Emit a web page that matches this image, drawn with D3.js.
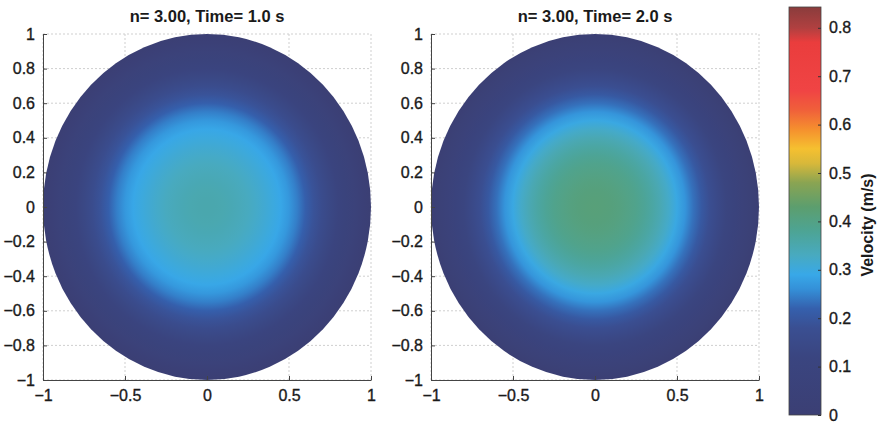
<!DOCTYPE html>
<html>
<head>
<meta charset="utf-8">
<script src="https://cdn.jsdelivr.net/npm/d3@7"></script>
<style>
  body { margin: 0; background: #fff; }
  text { font-family: "Liberation Sans", Arial, Helvetica, sans-serif; fill: #1a1a1a; }
  .tick text { stroke: #1a1a1a; stroke-width: 0.35px; }
</style>
</head>
<body>
<div id="chart"></div>
<script>
// radial positions (fraction of pipe radius) and velocity read at each one
const radius = [0, 0.05, 0.1, 0.15, 0.2, 0.25, 0.3, 0.35, 0.4, 0.45, 0.5,
                0.55, 0.6, 0.65, 0.7, 0.75, 0.8, 0.85, 0.9, 0.95, 1];
const velocityT1 = [0.352, 0.351, 0.348, 0.344, 0.338, 0.331, 0.322, 0.312, 0.301, 0.289, 0.270,
                    0.246, 0.218, 0.190, 0.163, 0.136, 0.109, 0.082, 0.055, 0.028, 0];
const velocityT2 = [0.415, 0.414, 0.411, 0.406, 0.399, 0.390, 0.378, 0.363, 0.345, 0.322, 0.296,
                    0.266, 0.234, 0.204, 0.175, 0.146, 0.117, 0.088, 0.060, 0.030, 0];
const titles = ["n= 3.00, Time= 1.0 s", "n= 3.00, Time= 2.0 s"];

const xTicks = [-1, -0.5, 0, 0.5, 1];
const yTicks = [-1, -0.8, -0.6, -0.4, -0.2, 0, 0.2, 0.4, 0.6, 0.8, 1];
const cbTicks = [0, 0.1, 0.2, 0.3, 0.4, 0.5, 0.6, 0.7, 0.8];
const cbMax = 0.843;

// colormap (jet as it looks printed)
const cmapValues = [0, 0.12, 0.18, 0.22, 0.26, 0.29, 0.33, 0.38, 0.43, 0.48, 0.52, 0.55,
                    0.59, 0.63, 0.67, 0.77, 0.80, 0.843];
const cmapColors = ["#3b3f74", "#3a4580", "#3a4f92", "#3560ad", "#3490d8", "#38a8e8", "#48aac0",
                    "#4da494", "#5c9e6e", "#8aa452", "#d8b83a", "#f5c030", "#f5902e", "#f0603a",
                    "#f04444", "#ea3d3d", "#b04040", "#8a3c3c"];

const width = 877, height = 424;
const color = d3.scaleLinear().domain(cmapValues).range(cmapColors).interpolate(d3.interpolateRgb);

const fmt = v => v === 0 ? "0" : (v < 0 ? "\u2212" : "") + String(+Math.abs(v).toFixed(1));

const svg = d3.select("#chart").append("svg")
    .attr("width", width)
    .attr("height", height);
const defs = svg.append("defs");

const panels = [
    {left: 43, right: 371, values: velocityT1, title: titles[0]},
    {left: 431, right: 759, values: velocityT2, title: titles[1]}
];
const plotTop = 34, plotBottom = 380;

panels.forEach((p, i) => {
    const x = d3.scaleLinear().domain([-1, 1]).range([p.left, p.right]);
    const y = d3.scaleLinear().domain([-1, 1]).range([plotBottom, plotTop]);
    const g = svg.append("g");

    // dashed grid
    g.selectAll(".gx").data(xTicks).enter().append("line")
        .attr("x1", d => x(d)).attr("x2", d => x(d))
        .attr("y1", plotTop).attr("y2", plotBottom)
        .attr("stroke", "#cfcfcf").attr("stroke-dasharray", "2,2");
    g.selectAll(".gy").data(yTicks).enter().append("line")
        .attr("x1", p.left).attr("x2", p.right)
        .attr("y1", d => y(d)).attr("y2", d => y(d))
        .attr("stroke", "#cfcfcf").attr("stroke-dasharray", "2,2");

    // radial velocity field
    const grad = defs.append("radialGradient")
        .attr("id", "field" + i)
        .attr("cx", 0.5).attr("cy", 0.5).attr("r", 0.5);
    grad.selectAll("stop").data(radius).enter().append("stop")
        .attr("offset", d => d)
        .attr("stop-color", (d, j) => color(p.values[j]));

    g.append("ellipse")
        .attr("cx", x(0)).attr("cy", y(0))
        .attr("rx", x(1) - x(0)).attr("ry", y(0) - y(1))
        .attr("fill", "url(#field" + i + ")");

    // axes
    const xAxis = d3.axisBottom(x).tickValues(xTicks).tickFormat(fmt).tickSizeInner(-4).tickSizeOuter(0).tickPadding(10);
    const yAxis = d3.axisLeft(y).tickValues(yTicks).tickFormat(fmt).tickSizeInner(-4).tickSizeOuter(0).tickPadding(8);

    const ax = g.append("g").attr("transform", `translate(0,${plotBottom})`).call(xAxis);
    const ay = g.append("g").attr("transform", `translate(${p.left},0)`).call(yAxis);
    [ax, ay].forEach(a => {
        a.select(".domain").attr("stroke", "#444");
        a.selectAll(".tick line").attr("stroke", "#444");
        a.selectAll(".tick text").style("font-size", "16px").attr("fill", "#1a1a1a");
    });

    g.append("text")
        .attr("x", x(0)).attr("y", 22)
        .attr("text-anchor", "middle")
        .style("font-size", "16.5px").style("font-weight", "bold")
        .text(p.title);
});

// colorbar
const cbLeft = 789, cbRight = 821;
const cy = d3.scaleLinear().domain([0, cbMax]).range([415, 7]);

const lg = defs.append("linearGradient")
    .attr("id", "cbar").attr("x1", 0).attr("y1", 1).attr("x2", 0).attr("y2", 0);
lg.selectAll("stop").data(cmapValues).enter().append("stop")
    .attr("offset", d => d / cbMax)
    .attr("stop-color", (d, j) => cmapColors[j]);

svg.append("rect")
    .attr("x", cbLeft).attr("y", cy(cbMax))
    .attr("width", cbRight - cbLeft).attr("height", cy(0) - cy(cbMax))
    .attr("fill", "url(#cbar)")
    .attr("stroke", "#444").attr("stroke-width", 0.8);

const cbAxis = d3.axisRight(cy).tickValues(cbTicks).tickFormat(fmt).tickSizeInner(-3).tickSizeOuter(0).tickPadding(8);
const cba = svg.append("g").attr("transform", `translate(${cbRight},0)`).call(cbAxis);
cba.select(".domain").remove();
cba.selectAll(".tick line").attr("stroke", "#333");
cba.selectAll(".tick text").style("font-size", "16px").attr("fill", "#1a1a1a");

svg.append("text")
    .attr("transform", "translate(873,225) rotate(-90)")
    .attr("text-anchor", "middle")
    .style("font-size", "16px").style("font-weight", "bold")
    .text("Velocity (m/s)");
</script>
</body>
</html>
